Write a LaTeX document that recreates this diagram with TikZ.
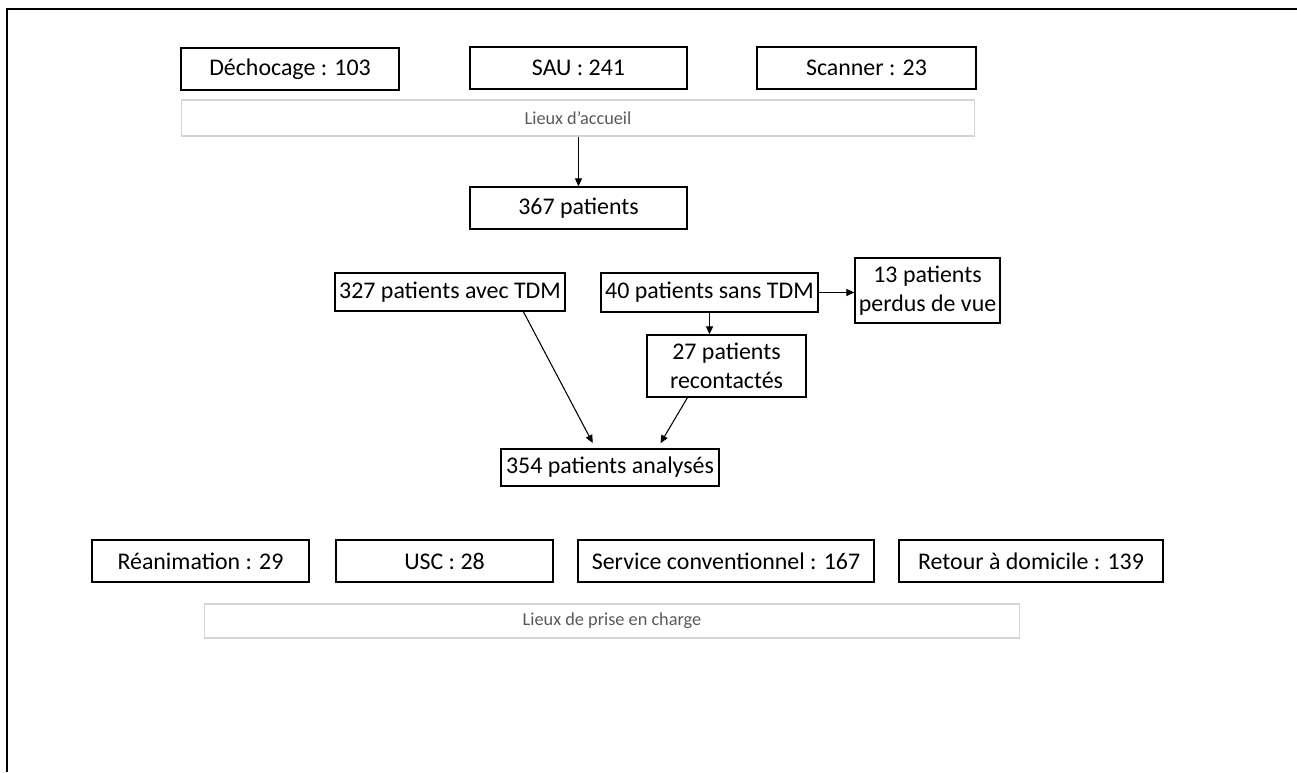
\documentclass[tikz,border=0pt]{standalone}
\usepackage{fontspec}
\setmainfont{Carlito}
\usepackage{tikz}
\usetikzlibrary{shapes,arrows.meta}
\tikzstyle{box} = [draw, line width=0.75pt, inner sep=0pt, align=center, font=\fontsize{13.6}{16.5}\selectfont]
\tikzstyle{graybox} = [draw=black!17, line width=0.6pt, inner sep=0pt, text=black!65, font=\fontsize{10.4}{12}\selectfont]
\tikzstyle{line} = [draw, line width=0.6pt, -{Triangle[length=1.6mm,width=1.4mm]}]
\usepackage{xcolor}

\begin{document}
\begin{tikzpicture}[x=0.02cm, y=-0.02cm]
            \useasboundingbox (0,0) rectangle (1297,772);
            \draw [line width=1.3pt] (7,772) -- (7,9) -- (1297,9);
                % lieux d'accueil
                \node (dech) [box, minimum width=4.36cm, minimum height=0.84cm] at (290,69) {Déchocage : 103};
                \node (sau) [box, minimum width=4.34cm, minimum height=0.84cm] at (578.5,68) {SAU : 241};
                \node (scan) [box, minimum width=4.38cm, minimum height=0.84cm] at (866.5,68) {Scanner : 23};
                \node (accueil) [graybox, minimum width=15.88cm, minimum height=0.72cm] at (578,118) {Lieux d’accueil};
                \node (total) [box, minimum width=4.34cm, minimum height=0.84cm] at (578.5,208) {367 patients};
                % patients
                \node (avec) [box, minimum width=4.6cm, minimum height=0.76cm] at (450,292) {327 patients avec TDM};
                \node (sans) [box, minimum width=4.34cm, minimum height=0.78cm] at (709.5,292.5) {40 patients sans TDM};
                \node (perdus) [box, minimum width=2.9cm, minimum height=1.3cm] at (927.5,290.5) {13 patients\\perdus de vue};
                \node (recont) [box, minimum width=3.18cm, minimum height=1.24cm] at (726.5,366) {27 patients\\recontactés};
                \node (analyses) [box, minimum width=4.36cm, minimum height=0.74cm] at (610,467.5) {354 patients analysés};
                % lieux de prise en charge
                \node (rea) [box, minimum width=4.34cm, minimum height=0.84cm] at (200.5,561) {Réanimation : 29};
                \node (usc) [box, minimum width=4.34cm, minimum height=0.84cm] at (444.5,561) {USC : 28};
                \node (serv) [box, minimum width=5.92cm, minimum height=0.84cm] at (726,561) {Service conventionnel : 167};
                \node (retour) [box, minimum width=5.28cm, minimum height=0.84cm] at (1031,561) {Retour à domicile : 139};
                \node (prise) [graybox, minimum width=16.32cm, minimum height=0.68cm] at (612,621) {Lieux de prise en charge};
                % fleches
                \path [line] (accueil.south -| total.north) -- (total.north);
                \path [line] (sans.east) -- (perdus.west |- sans.east);
                \path [line] (sans.south) -- (sans.south |- recont.north);
                \path [line, shorten >=0.12cm] (avec.-15) -- (analyses.127);
                \path [line, shorten >=0.12cm] (recont.-141) -- (analyses.22);
\end{tikzpicture}
\end{document}
